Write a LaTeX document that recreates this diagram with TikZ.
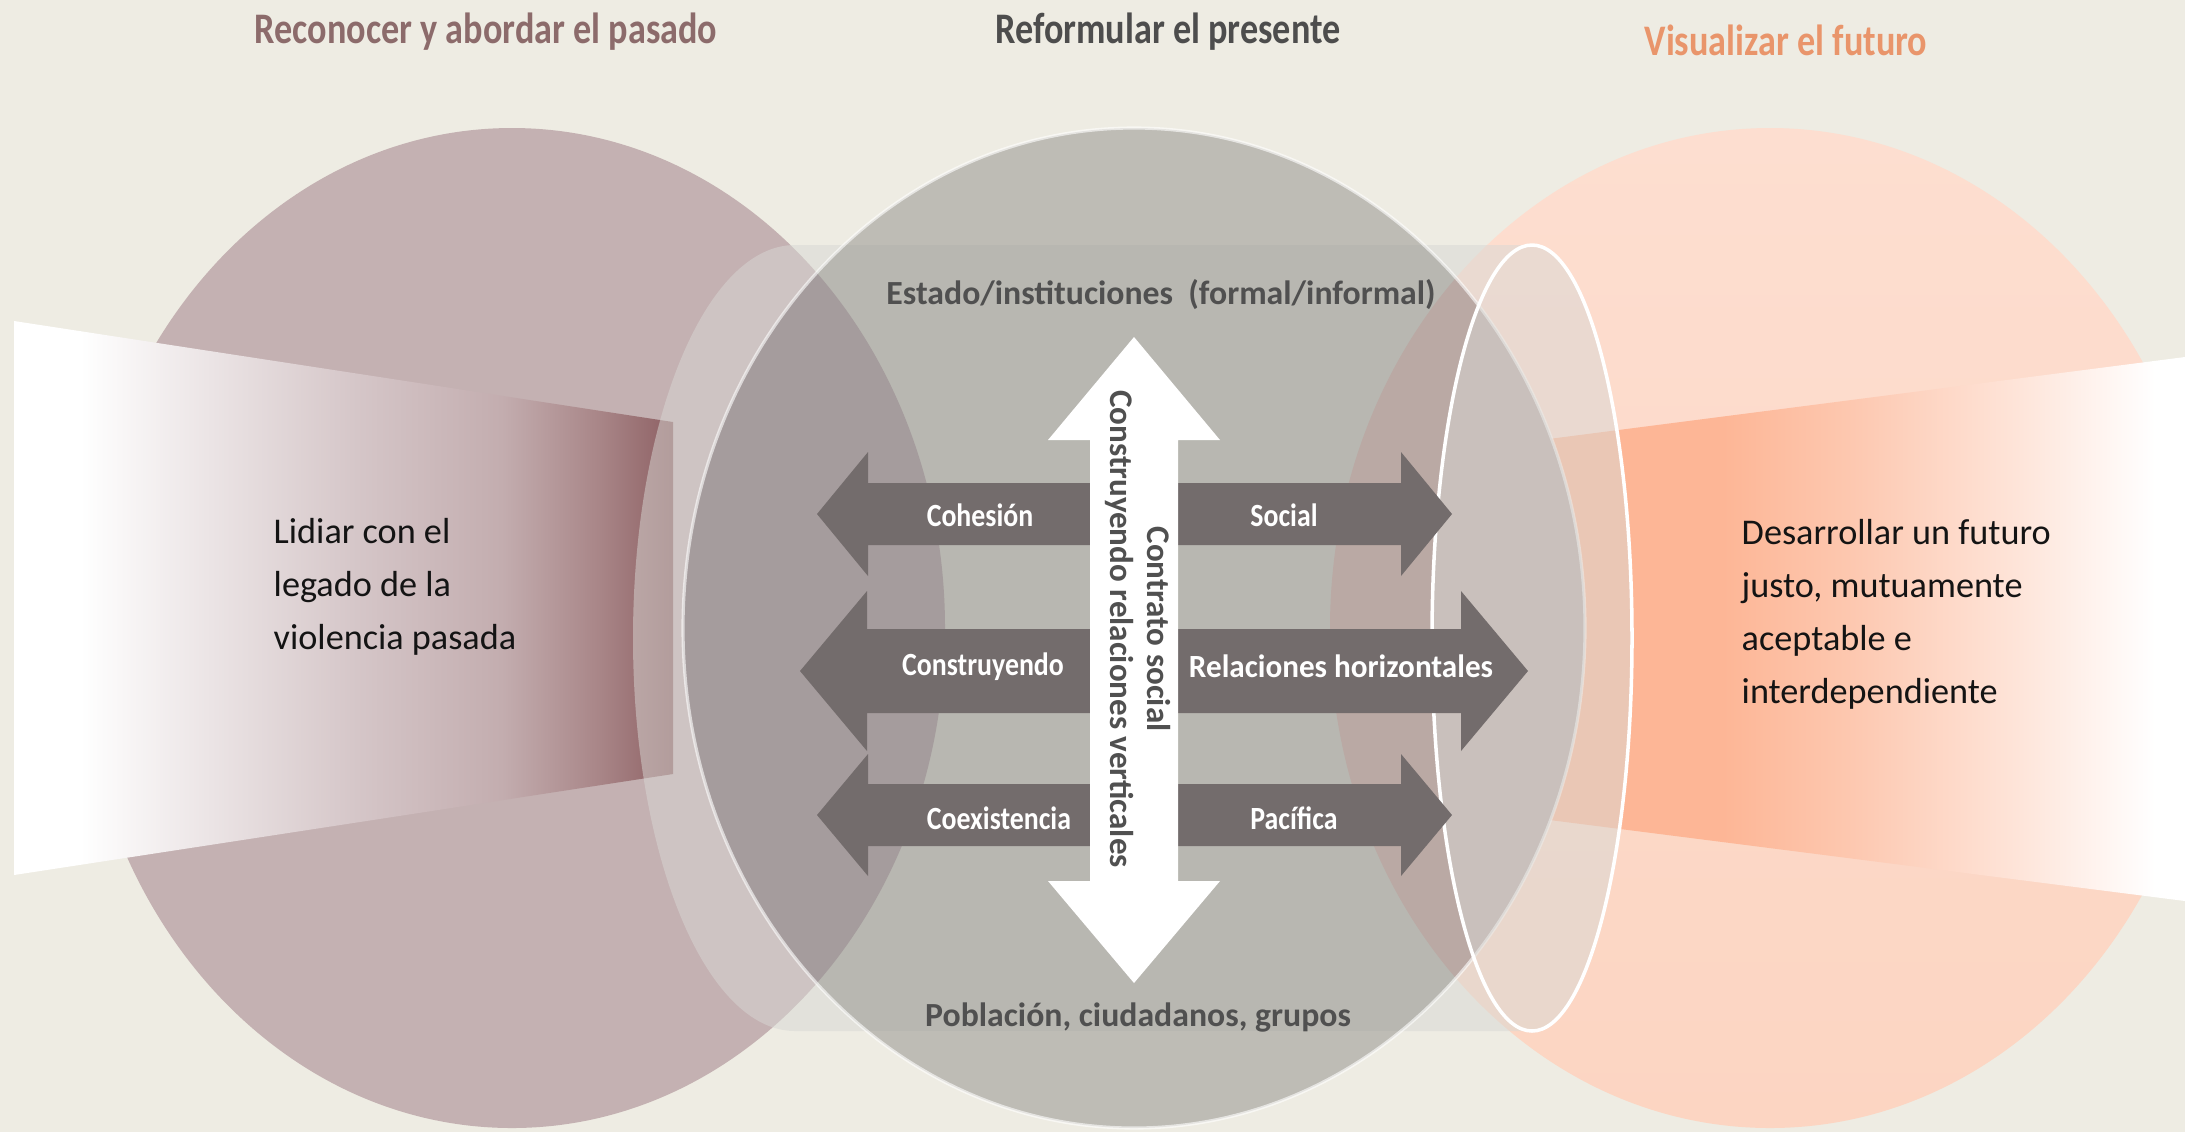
\documentclass[tikz,border=0pt]{standalone}
\usepackage{fontspec}
\setmainfont{Carlito}

\definecolor{bgcream}{HTML}{EEECE3}
\definecolor{pastrose}{HTML}{C4B1B2}
\definecolor{presgray}{HTML}{BEBCB5}
\definecolor{presband}{HTML}{B8B7B1}
\definecolor{futtop}{HTML}{FDDED0}
\definecolor{futpeach}{HTML}{FCD5C2}
\definecolor{overlapL}{HTML}{A59C9D}
\definecolor{overlapR}{HTML}{BAA9A4}
\definecolor{bandgray}{HTML}{D8D8D4}
\definecolor{arrowgray}{HTML}{736C6C}
\definecolor{labelgray}{HTML}{505050}
\definecolor{inkblack}{HTML}{141414}
\definecolor{titlerose}{HTML}{8C6B6B}
\definecolor{titlegray}{HTML}{4D4D4D}
\definecolor{titleorange}{HTML}{E9956B}
\definecolor{pastmid}{HTML}{D5C6C8}
\definecolor{pastmidb}{HTML}{C3ADAF}
\definecolor{pastdeep}{HTML}{A88587}
\definecolor{pastend}{HTML}{8E6164}
\definecolor{futbeam}{HTML}{FDB696}
\definecolor{futmid}{HTML}{FDC8B0}
\definecolor{futlight}{HTML}{FEE5DA}

\pgfdeclarehorizontalshading{pastbeam}{100bp}{color(0bp)=(white); color(30bp)=(white); color(51bp)=(pastmid); color(62bp)=(pastmidb); color(69.5bp)=(pastdeep); color(75bp)=(pastend); color(100bp)=(pastend)}
\pgfdeclarehorizontalshading{futurebeam}{100bp}{color(0bp)=(futbeam); color(44bp)=(futbeam); color(52.7bp)=(futmid); color(64bp)=(futlight); color(73bp)=(white); color(100bp)=(white)}

\begin{document}
\begin{tikzpicture}[x=0.01cm, y=-0.01cm,
    title/.style={font=\bfseries\fontsize{12.4}{14}\selectfont, anchor=base, xscale=0.83},
    body/.style={font=\fontsize{10.3}{15}\selectfont, text=inkblack, align=left, anchor=base west, inner sep=0pt},
    level/.style={font=\bfseries\fontsize{9.6}{11}\selectfont, text=labelgray, anchor=base},
    armlabel/.style={font=\bfseries\fontsize{9.2}{11}\selectfont, text=white, anchor=base, xscale=0.86},
    vlabel/.style={font=\bfseries\fontsize{9.4}{10.3}\selectfont, text=labelgray, align=center, rotate=-90},
    rim/.style={draw=white, draw opacity=0.6, line width=0.9pt}]
\useasboundingbox (0,0) rectangle (2185,1132);
\clip (0,0) rectangle (2185,1132);
\fill[bgcream] (0,0) rectangle (2185,1132);

% past, present, future
\coordinate (pastc) at (512,628);
\coordinate (presc) at (1134,628);
\coordinate (futc) at (1770,628);
\fill[pastrose] (pastc) ellipse [x radius=433, y radius=500];
\shade[top color=futtop, bottom color=futpeach] (futc) ellipse [x radius=440, y radius=500];

% beams
\shade[shading=pastbeam] (14,321) -- (673,422) -- (673,774) -- (14,875) -- cycle;
\shade[shading=futurebeam] (1440,453) -- (2185,357) -- (2185,901) -- (1440,806) -- cycle;

% the band, up to the end face
\fill[bandgray, fill opacity=0.5] (795,245) -- (1532,245)
    arc [start angle=270, end angle=90, x radius=100, y radius=393] -- (795,1031)
    arc [start angle=90, end angle=270, x radius=162, y radius=393] -- cycle;

\fill[presgray] (presc) ellipse [x radius=451, y radius=500];
\begin{scope}
    \clip (presc) ellipse [x radius=451, y radius=500];
    \fill[presband] (600,245) rectangle (1700,1031);
    \fill[overlapL] (pastc) ellipse [x radius=433, y radius=500];
    \fill[overlapR] (futc) ellipse [x radius=440, y radius=500];
\end{scope}
\draw[rim] (presc) ellipse [x radius=451, y radius=500];
\filldraw[fill=bandgray, fill opacity=0.5, draw=white, line width=1pt] (1532,638) ellipse [x radius=100, y radius=393];

% arrows
\foreach \yy/\xl/\xr/\sw/\hw/\hl in {514/817/1452/31/62/51, 671/800/1528/42/80/67, 815/817/1452/31/61/51}
    \fill[arrowgray] (\xl,\yy) -- ++(\hl,-\hw) -- ++(0,\hw-\sw) -- (\xr-\hl,\yy-\sw) -- ++(0,\sw-\hw)
        -- (\xr,\yy) -- ++(-\hl,\hw) -- ++(0,\sw-\hw) -- (\xl+\hl,\yy+\sw) -- ++(0,\hw-\sw) -- cycle;
\fill[white] (1134,337) -- (1220,440) -- (1178,440) -- (1178,881) -- (1220,881) -- (1134,983)
    -- (1048,881) -- (1090,881) -- (1090,440) -- (1048,440) -- cycle;

% texts
\node[title, text=titlerose] (pasttitle) at (486,43) {Reconocer y abordar el pasado};
\node[title, text=titlegray] (prestitle) at (1168,43) {Reformular el presente};
\node[title, text=titleorange] (futtitle) at (1786,55) {Visualizar el futuro};
\node[body] (pasttext) at (273,649) {Lidiar con el\\legado de la\\violencia pasada};
\node[body] (futtext) at (1741,703) {Desarrollar un futuro\\justo, mutuamente\\aceptable e\\interdependiente};
\node[level] (state) at (1161,304) {Estado/instituciones\ \ (formal/informal)};
\node[level] (people) at (1138,1026) {Población, ciudadanos, grupos};
\node[armlabel] (cohesion) at (980,526) {Cohesión};
\node[armlabel] (social) at (1284,526) {Social};
\node[armlabel] (building) at (983,675) {Construyendo};
\node[armlabel, xscale=1.12] (horizontal) at (1341,677) {Relaciones horizontales};
\node[armlabel] (coexist) at (999,829) {Coexistencia};
\node[armlabel] (peaceful) at (1294,829) {Pacífica};
\node[vlabel] (contract) at (1138,629) {Contrato social\\Construyendo relaciones verticales};
\end{tikzpicture}
\end{document}
